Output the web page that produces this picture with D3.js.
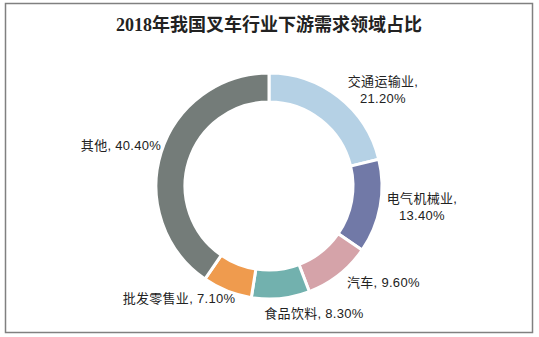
<!DOCTYPE html>
<html><head><meta charset="utf-8">
<script src="https://cdn.jsdelivr.net/npm/d3@7/dist/d3.min.js"></script>
<style>body{margin:0;background:#fff;}svg{display:block;}</style>
</head><body>
<svg id="c" width="539" height="337"></svg>
<script>
const categories = ["交通运输业","电气机械业","汽车","食品饮料","批发零售业","其他"];
const values = [21.2, 13.4, 9.6, 8.3, 7.1, 40.4];
const labels = [["交通运输业,","21.20%"],["电气机械业,","13.40%"],["汽车, 9.60%"],["食品饮料, 8.30%"],["批发零售业, 7.10%"],["其他, 40.40%"]];
const colors = ["#b5d1e5","#7179a7","#d5a3a9","#72b1ae","#ef9b4e","#747c79"];
const title = "2018年我国叉车行业下游需求领域占比";

const svg = d3.select("#c");
svg.append("rect").attr("x",5.5).attr("y",3.5).attr("width",527).attr("height",329)
  .attr("fill","#fff").attr("stroke","#808080").attr("stroke-width",1.5);
svg.append("text").attr("x",269).attr("y",31).attr("text-anchor","middle")
  .attr("font-family","'Liberation Serif','Noto Sans CJK SC',serif").attr("font-weight","bold")
  .attr("font-size",18).attr("fill","#222").text(title);

const cx = 269, cy = 186, rOut = 113, rIn = 84;
const pie = d3.pie().sort(null).value(d=>d)(values);
const arc = d3.arc().innerRadius(rIn).outerRadius(rOut);
const g = svg.append("g").attr("transform",`translate(${cx},${cy})`);
g.selectAll("path").data(pie).join("path").attr("d",arc)
  .attr("fill",(d,i)=>colors[i]).attr("stroke","#fff").attr("stroke-width",3);

const labelPos = [[383,86,"middle"],[422,203,"middle"],[347,287,"start"],[314,318,"middle"],[179,303,"middle"],[121,150,"middle"]];
const lt = svg.append("g").attr("font-family","'Liberation Sans','Noto Sans CJK SC',sans-serif")
  .attr("font-size",13).attr("letter-spacing",0.3).attr("fill","#222");
labels.forEach((ls,i)=>{
  const [x,y,a] = labelPos[i];
  const t = lt.append("text").attr("x",x).attr("y",y).attr("text-anchor",a);
  ls.forEach((s,j)=>t.append("tspan").attr("x",x).attr("dy",j?17:0).text(s));
});
</script>
</body></html>
